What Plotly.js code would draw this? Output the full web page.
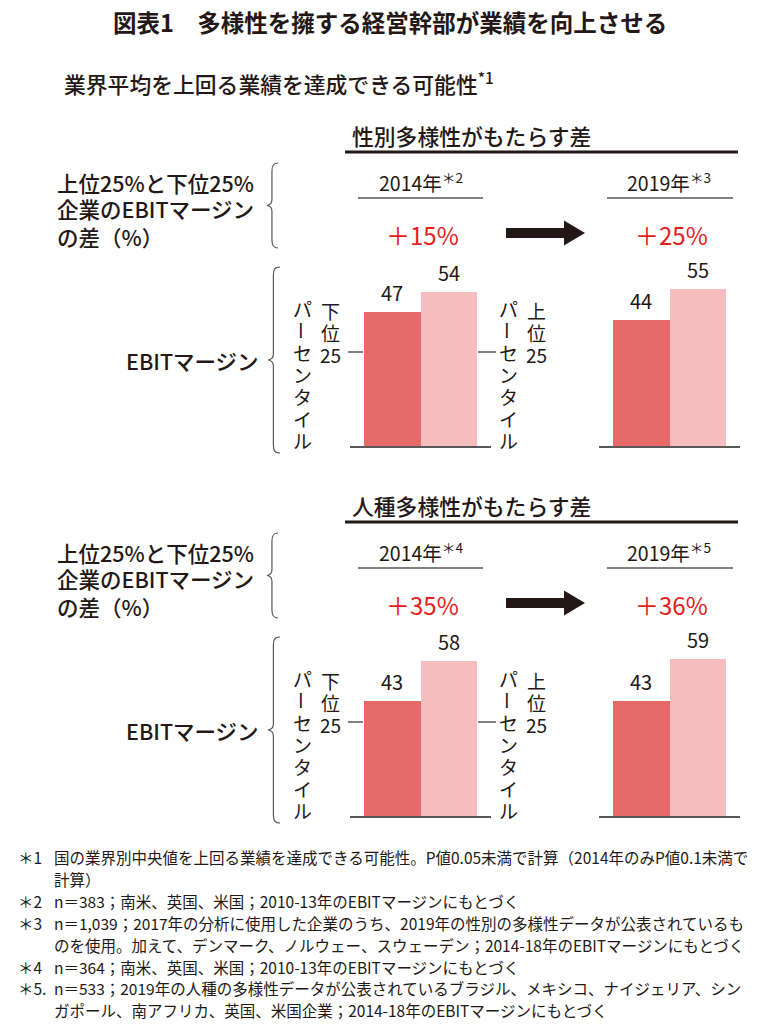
<!DOCTYPE html>
<html>
<head>
<meta charset="utf-8">
<script src="https://cdn.plot.ly/plotly-3.0.1.min.js"></script>
<style>html,body{margin:0;padding:0;background:#fff;}#chart{width:768px;height:1024px;}</style>
</head>
<body>
<div id="chart"></div>
<script>
// ---------- data ----------
const percentileCategories = ['下位25パーセンタイル', '上位25パーセンタイル'];
const genderMargin2014 = [47, 54];
const genderMargin2019 = [44, 55];
const ethnicMargin2014 = [43, 58];
const ethnicMargin2019 = [43, 59];
const genderGap = ['＋15%', '＋25%'];
const ethnicGap = ['＋35%', '＋36%'];
const genderYears = ['2014年<sup>＊2</sup>', '2019年<sup>＊3</sup>'];
const ethnicYears = ['2014年<sup>＊4</sup>', '2019年<sup>＊5</sup>'];
const sectionTitles = ['性別多様性がもたらす差', '人種多様性がもたらす差'];
const footMarks = ['＊1', '', '＊2', '＊3', '', '＊4', '＊5.', ''];
const footLines = [
  '国の業界別中央値を上回る業績を達成できる可能性。P値0.05未満で計算（2014年のみP値0.1未満で',
  '計算）',
  'n＝383；南米、英国、米国；2010-13年のEBITマージンにもとづく',
  'n＝1,039；2017年の分析に使用した企業のうち、2019年の性別の多様性データが公表されているも',
  'のを使用。加えて、デンマーク、ノルウェー、スウェーデン；2014-18年のEBITマージンにもとづく',
  'n＝364；南米、英国、米国；2010-13年のEBITマージンにもとづく',
  'n＝533；2019年の人種の多様性データが公表されているブラジル、メキシコ、ナイジェリア、シン',
  'ガポール、南アフリカ、英国、米国企業；2014-18年のEBITマージンにもとづく'
];

// ---------- styling helpers ----------
const W = 768, H = 1024;
const X = p => p / W;
const Y = p => 1 - p / H;
const INK = '#231815';
const GRAY = '#595757';
const RED = '#E3211B';
const DARK = '#E76A6B';
const LIGHT = '#F5BDBE';
const FONT = '"Noto Sans CJK JP", "Noto Sans", sans-serif';

const annotations = [];
const shapes = [];
function txt(x, y, text, size, opts) {
  annotations.push(Object.assign({
    xref: 'paper', yref: 'paper', x: X(x), y: Y(y), text: text, showarrow: false,
    xanchor: 'center', yanchor: 'middle', borderpad: 0, borderwidth: 0,
    font: {family: FONT, size: size, color: INK}
  }, opts || {}));
}
function line(x0, y0, x1, y1, color, width) {
  shapes.push({type: 'line', xref: 'paper', yref: 'paper', x0: X(x0), y0: Y(y0), x1: X(x1), y1: Y(y1),
    line: {color: color, width: width}});
}
function pathPx(cmds) {
  return cmds.map(c => c[0] + c.slice(1).reduce((a, v, i) => {
    a.push(i % 2 === 0 ? X(v).toFixed(5) : Y(v).toFixed(5)); return a;
  }, []).join(',')).join(' ');
}
function brace(xTip, xEnd, yTop, yBot) {
  const xm = xTip + (xEnd - xTip) * 0.45;
  const ym = (yTop + yBot) / 2;
  const p = pathPx([
    ['M', xEnd, yTop],
    ['C', xm + 1, yTop, xm, yTop + 3, xm, yTop + 8],
    ['L', xm, ym - 6],
    ['C', xm, ym - 2, xm - 2, ym - 0.5, xTip, ym],
    ['C', xm - 2, ym + 0.5, xm, ym + 2, xm, ym + 6],
    ['L', xm, yBot - 8],
    ['C', xm, yBot - 3, xm + 1, yBot, xEnd, yBot]
  ]);
  shapes.push({type: 'path', xref: 'paper', yref: 'paper', path: p, line: {color: GRAY, width: 1.2}});
}
function arrow(x0, x1, yc) {
  const xh = x1 - 21;
  const p = pathPx([
    ['M', x0, yc - 5], ['L', xh, yc - 5], ['L', xh, yc - 12.5], ['L', x1, yc],
    ['L', xh, yc + 12.5], ['L', xh, yc + 5], ['L', x0, yc + 5]
  ]) + ' Z';
  shapes.push({type: 'path', xref: 'paper', yref: 'paper', path: p, fillcolor: INK, line: {width: 0}});
}
// vertical (tategaki) text: one annotation per glyph group
function vtext(x, yStart, step, parts, size) {
  parts.forEach((ch, i) => {
    const opts = (ch === 'ー') ? {textangle: 90} : {};
    txt(x, yStart + i * step, ch, size, opts);
  });
}

// ---------- fixed texts ----------
txt(390, 22, '図表1　多様性を擁する経営幹部が業績を向上させる', 23.5, {font: {family: FONT, size: 23.5, color: INK, weight: 700}});
txt(64, 82, '業界平均を上回る業績を達成できる可能性<sup>*1</sup>', 21.8, {xanchor: 'left', font: {family: FONT, size: 21.8, color: INK, weight: 500}});

// ---------- panels ----------
const panels = [
  {off: 0, title: sectionTitles[0], years: genderYears, gap: genderGap, data: [genderMargin2014, genderMargin2019], ppu: 2.86},
  {off: 370, title: sectionTitles[1], years: ethnicYears, gap: ethnicGap, data: [ethnicMargin2014, ethnicMargin2019], ppu: 2.665}
];

const traces = [];
const layout = {
  width: W, height: H, margin: {l: 0, r: 0, t: 0, b: 0},
  paper_bgcolor: '#fff', plot_bgcolor: 'rgba(0,0,0,0)',
  showlegend: false, bargap: 0,
  font: {family: FONT, color: INK},
  annotations: annotations, shapes: shapes
};

const groupX = [[350, 491], [599, 740]];
const labelFont = s => ({family: FONT, size: s, color: INK, weight: 500});
let axisIndex = 0;
panels.forEach((pn, pi) => {
  const o = pn.off;
  txt(352, 135 + o, pn.title, 21.8, {xanchor: 'left', font: labelFont(21.8)});
  line(345, 152 + o, 738, 152 + o, INK, 3);

  // left label block
  txt(57, 182 + o, '上位25%と下位25%', 21.5, {xanchor: 'left', font: labelFont(21.5)});
  txt(57, 208 + o, '企業のEBITマージン', 21.5, {xanchor: 'left', font: labelFont(21.5)});
  txt(57, 236 + o, 'の差（%）', 21.5, {xanchor: 'left', font: labelFont(21.5)});
  brace(267, 278, 163 + o, 248 + o);

  // year headers
  txt(421, 182 + o, pn.years[0], 19.5);
  txt(669, 182 + o, pn.years[1], 19.5);
  line(358, 198 + o, 483, 198 + o, GRAY, 1.5);
  line(607, 198 + o, 733, 198 + o, GRAY, 1.5);

  // gaps
  txt(422, 234 + o, pn.gap[0], 24, {font: {family: FONT, size: 24, color: RED}});
  txt(671, 234 + o, pn.gap[1], 24, {font: {family: FONT, size: 24, color: RED}});
  arrow(506, 585, 233 + o);

  // EBIT label
  txt(126, 360 + o, 'EBITマージン', 21.5, {xanchor: 'left', font: labelFont(21.5)});
  brace(268, 280, 267 + o, 453 + o);

  // vertical percentile labels
  [{xp: 302, xs: 330, head: ['下', '位', '25']},
   {xp: 508, xs: 536, head: ['上', '位', '25']}].forEach(c => {
    vtext(c.xp, 308 + o, 22, ['パ', 'ー', 'セ', 'ン', 'タ', 'イ', 'ル'], 19);
    vtext(c.xs, 310 + o, 22, c.head, 19);
  });
  line(348, 352 + o, 363, 352 + o, GRAY, 1.5);
  line(478, 352 + o, 496, 352 + o, GRAY, 1.5);

  // bars
  const baseline = 446 + o;
  const yRange = 60;
  const top = baseline - yRange * pn.ppu;
  pn.data.forEach((vals, gi) => {
    axisIndex += 1;
    const sfx = axisIndex === 1 ? '' : String(axisIndex);
    traces.push({
      type: 'bar', x: percentileCategories, y: vals,
      xaxis: 'x' + sfx, yaxis: 'y' + sfx,
      marker: {color: [DARK, LIGHT], line: {width: 0}},
      hoverinfo: 'skip', cliponaxis: false
    });
    layout['xaxis' + sfx] = {
      domain: [X(groupX[gi][0]), X(groupX[gi][1])], anchor: 'y' + sfx,
      type: 'category', range: [-0.75, 1.75],
      showline: true, linecolor: GRAY, linewidth: 1.5,
      showgrid: false, zeroline: false, ticks: '', showticklabels: false, fixedrange: true
    };
    layout['yaxis' + sfx] = {
      domain: [Y(baseline), Y(top)], anchor: 'x' + sfx, range: [0, yRange],
      showline: false, showgrid: false, zeroline: false, ticks: '', showticklabels: false, fixedrange: true
    };
    vals.forEach((v, i) => {
      annotations.push({
        xref: 'x' + sfx, yref: 'y' + sfx, x: percentileCategories[i], y: v,
        text: String(v), showarrow: false, yanchor: 'bottom', yshift: 3,
        font: {family: FONT, size: 20, color: INK}
      });
    });
  });
});

// ---------- footnotes ----------
footLines.forEach((t, i) => {
  const y = 857 + i * 21.9;
  if (footMarks[i]) txt(18, y, footMarks[i], 15.5, {xanchor: 'left'});
  txt(54, y, t, 15.5, {xanchor: 'left'});
});

Plotly.newPlot('chart', traces, layout, {staticPlot: true, displayModeBar: false});
</script>
</body>
</html>
